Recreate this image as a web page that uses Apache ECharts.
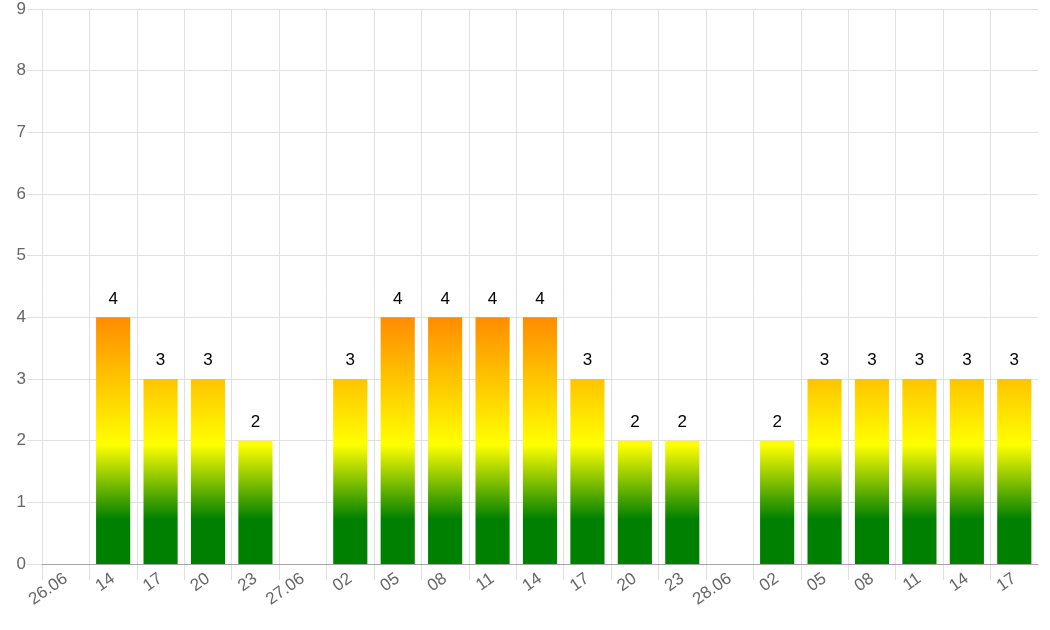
<!DOCTYPE html>
<html>
<head>
<meta charset="utf-8">
<script src="https://cdn.jsdelivr.net/npm/echarts@6/dist/echarts.min.js"></script>
<style>
html,body{margin:0;padding:0;background:#fff;}
#chart{width:1050px;height:630px;}
</style>
</head>
<body>
<div id="chart"></div>
<script>
const categories = ['26.06','14','17','20','23','27.06','02','05','08','11','14','17','20','23','28.06','02','05','08','11','14','17'];
const values = [null,4,3,3,2,null,3,4,4,4,4,3,2,2,null,2,3,3,3,3,3];
const yMin = 0, yMax = 9, yInterval = 1;

// layout (pixels)
const W = 1050, H = 630;
const gLeft = 42, gRight = 12, gTop = 9, gBottom = 66, tickLen = 16;
const plotW = W - gLeft - gRight;
const catW = plotW / categories.length;
// grid used only for the vertical category boundary lines (left boundary of each category)
const lineGridRight = W - gLeft - catW * (categories.length - 1);

const chart = echarts.init(document.getElementById('chart'), null, {renderer:'canvas'});
const font = 'Liberation Sans, Arial, Helvetica, sans-serif';
const gridColor = '#e0e0e0';
const option = {
  animation: false,
  grid: [
    {left: gLeft, right: gRight, top: gTop, bottom: gBottom, containLabel: false},
    {left: gLeft, right: lineGridRight, top: gTop, bottom: gBottom - tickLen, containLabel: false}
  ],
  xAxis: [{
    type: 'category',
    gridIndex: 0,
    data: categories,
    boundaryGap: true,
    axisLine: {show: true, lineStyle: {color: '#a6a6a6', width: 1}},
    axisTick: {show: false},
    splitLine: {show: false},
    axisLabel: {rotate: 35, margin: 13, color: '#666', fontSize: 17, fontFamily: font, interval: 0},
    z: 5
  }, {
    type: 'value',
    gridIndex: 1,
    min: 0, max: categories.length - 1, interval: 1,
    axisLine: {show: false},
    axisTick: {show: false},
    axisLabel: {show: false},
    splitLine: {show: true, lineStyle: {color: gridColor}},
    z: 0
  }],
  yAxis: [{
    type: 'value',
    gridIndex: 0,
    min: yMin, max: yMax, interval: yInterval,
    axisLine: {show: false},
    axisTick: {show: true, length: 15, lineStyle: {color: gridColor}},
    splitLine: {show: true, lineStyle: {color: gridColor}},
    axisLabel: {margin: 16, color: '#666', fontSize: 17, fontFamily: font}
  }, {
    type: 'value',
    gridIndex: 1,
    min: 0, max: 1,
    show: false,
    splitLine: {show: false}
  }],
  series: [{
    type: 'bar',
    xAxisIndex: 0,
    yAxisIndex: 0,
    data: values,
    barWidth: '72%',
    itemStyle: {color: '#008000'},
    z: 3,
    label: {show: true, position: 'top', distance: 10, color: '#000', fontSize: 17, fontFamily: font}
  }]
};
chart.setOption(option);
const y0 = chart.convertToPixel({yAxisIndex: 0}, yMin);
const y1 = chart.convertToPixel({yAxisIndex: 0}, yMax);
const grad = new echarts.graphic.LinearGradient(0, y0, 0, y1, [
  {offset: 0, color: '#008000'},
  {offset: 0.08, color: '#008000'},
  {offset: 0.215, color: '#ffff00'},
  {offset: 0.444, color: '#ff8c00'},
  {offset: 1, color: '#ff0000'}
], true);
chart.setOption({series: [{itemStyle: {color: grad}}]});
</script>
</body>
</html>
